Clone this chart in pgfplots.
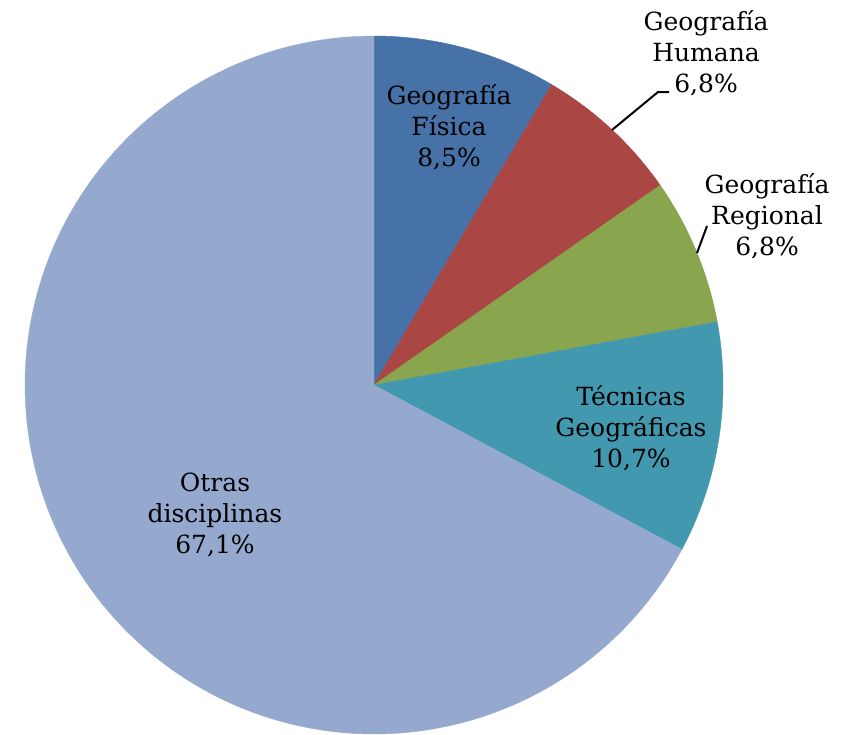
\documentclass[border=0pt]{standalone}
\usepackage{fontspec}
\setmainfont{DejaVu Serif}
\usepackage{pgfplots}
\pgfplotsset{compat=1.18}
\definecolor{fis}{HTML}{4672A8}
\definecolor{hum}{HTML}{AA4644}
\definecolor{reg}{HTML}{89A54E}
\definecolor{tec}{HTML}{4298AF}
\definecolor{otr}{HTML}{95A9CF}
% shares (%), clockwise from 12 o'clock
\pgfmathsetmacro\aA{90}
\pgfmathsetmacro\aB{\aA-8.5*3.6}
\pgfmathsetmacro\aC{\aB-6.8*3.6}
\pgfmathsetmacro\aD{\aC-6.8*3.6}
\pgfmathsetmacro\aE{\aD-10.7*3.6}
\pgfmathsetmacro\aF{-270}
\tikzset{lbl/.style={font=\fontsize{12.5}{15.5}\selectfont, align=center, text=black, inner sep=0pt}}
\begin{document}
\begin{tikzpicture}
\begin{axis}[
  scale only axis, width=422.5pt, height=367pt,
  xmin=0, xmax=845, ymin=0, ymax=734,
  hide axis, clip=false,
]
\path (axis cs:0,0) rectangle (axis cs:845,734);
\addplot[fill=fis, draw=fis, line width=0.2pt, domain=\aB:\aA, samples=60, variable=\t] ({374+349*cos(\t)},{349+349*sin(\t)}) -- (axis cs:374,349) -- cycle;
\addplot[fill=hum, draw=hum, line width=0.2pt, domain=\aC:\aB, samples=60, variable=\t] ({374+349*cos(\t)},{349+349*sin(\t)}) -- (axis cs:374,349) -- cycle;
\addplot[fill=reg, draw=reg, line width=0.2pt, domain=\aD:\aC, samples=60, variable=\t] ({374+349*cos(\t)},{349+349*sin(\t)}) -- (axis cs:374,349) -- cycle;
\addplot[fill=tec, draw=tec, line width=0.2pt, domain=\aE:\aD, samples=60, variable=\t] ({374+349*cos(\t)},{349+349*sin(\t)}) -- (axis cs:374,349) -- cycle;
\addplot[fill=otr, draw=otr, line width=0.2pt, domain=\aF:\aE, samples=200, variable=\t] ({374+349*cos(\t)},{349+349*sin(\t)}) -- (axis cs:374,349) -- cycle;
\draw[black, line width=1pt] (axis cs:612,604) -- (axis cs:658,642) -- (axis cs:669,642);
\draw[black, line width=1pt] (axis cs:697,481) -- (axis cs:707,508);
\node[lbl] at (axis cs:449,607) {Geografía\\Física\\8,5\%};
\node[lbl] at (axis cs:706,681) {Geografía\\Humana\\6,8\%};
\node[lbl] at (axis cs:767,518) {Geografía\\Regional\\6,8\%};
\node[lbl] at (axis cs:631,306) {Técnicas\\Geográficas\\10,7\%};
\node[lbl] at (axis cs:215,219) {Otras\\disciplinas\\67,1\%};
\end{axis}
\end{tikzpicture}
\end{document}
